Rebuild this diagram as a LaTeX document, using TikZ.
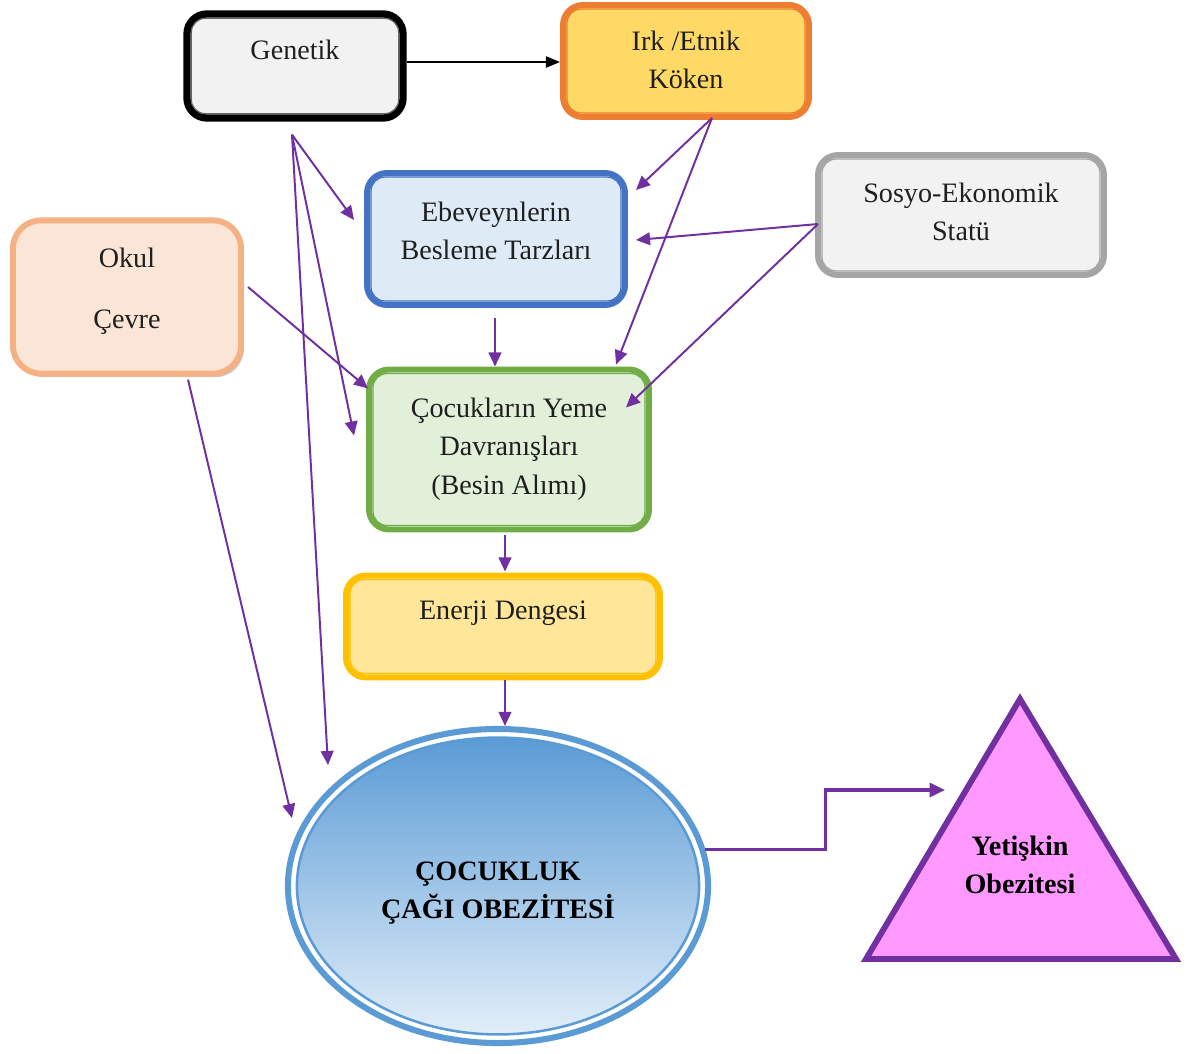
\documentclass[tikz,border=0pt]{standalone}
\usepackage{fontspec}
\setmainfont{Liberation Serif}
\usetikzlibrary{calc,arrows.meta,shapes.geometric,shadows}
\definecolor{cblack}{HTML}{000000}
\definecolor{cgray}{HTML}{A5A5A5}
\definecolor{cgrayfill}{HTML}{F2F2F2}
\definecolor{corange}{HTML}{ED7D31}
\definecolor{corfill}{HTML}{FFD966}
\definecolor{cblue}{HTML}{4472C4}
\definecolor{cbluefill}{HTML}{DEEBF7}
\definecolor{cpeach}{HTML}{F4B183}
\definecolor{cpeachfill}{HTML}{FBE5D6}
\definecolor{cgreen}{HTML}{70AD47}
\definecolor{cgreenfill}{HTML}{E2F0D9}
\definecolor{cgold}{HTML}{FFC000}
\definecolor{cgoldfill}{HTML}{FFE699}
\definecolor{csky}{HTML}{5B9BD5}
\definecolor{cskylight}{HTML}{E2EEF9}
\definecolor{cpurple}{HTML}{7030A0}
\definecolor{cpink}{HTML}{FF99FF}
\begin{document}
\begin{tikzpicture}[x=0.025cm,y=-0.025cm,
  boxshape/.style={rectangle, rounded corners=0.5cm, line width=4.2pt, inner sep=0pt},
  innerline/.style={line width=0.9pt, rounded corners=0.35cm},
  txt/.style={font=\fontsize{20}{27.5}\selectfont, align=center, text=black!88, inner sep=0pt},
  btxt/.style={font=\bfseries\fontsize{20}{27.5}\selectfont, align=center, text=black, inner sep=0pt},
  arr/.style={draw=cpurple, line width=1.4pt, -{Triangle[length=10pt,width=9pt]}},
  blackarr/.style={draw=black, line width=1.2pt, -{Triangle[length=10pt,width=8pt]}}
]
\useasboundingbox (0,0) rectangle (1193,1054);

% Genetik
\node[boxshape, line width=5.2pt, draw=cblack, fill=cgrayfill, minimum width=5.4cm, minimum height=2.6cm] (gen) at (295,66) {};
\draw[innerline, draw=black!60] ($(gen.north west)+(8,8)$) rectangle ($(gen.south east)+(-8,-8)$);
\node[txt] (gent) at (295,50) {Genetik};

% Irk
\node[boxshape, draw=corange, fill=corfill, minimum width=6.15cm, minimum height=2.8cm] (irk) at (686,61) {};
\draw[innerline, draw=corange] ($(irk.north west)+(7,7)$) rectangle ($(irk.south east)+(-7,-7)$);
\node[txt] (irkt) at (686,60) {Irk /Etnik\\Köken};

% Ebeveynlerin
\node[boxshape, draw=cblue, fill=cbluefill, minimum width=6.45cm, minimum height=3.3cm] (ebe) at (496,239) {};
\draw[innerline, draw=cblue] ($(ebe.north west)+(7,7)$) rectangle ($(ebe.south east)+(-7,-7)$);
\node[txt] (ebet) at (496,231) {Ebeveynlerin\\Besleme Tarzları};

% Okul
\node[boxshape, rounded corners=0.7cm, draw=cpeach, fill=cpeachfill, minimum width=5.7cm, minimum height=3.83cm,
  drop shadow={shadow xshift=2pt, shadow yshift=-2.5pt, opacity=0.35, fill=black!60}] (okul) at (127,297) {};
\node[txt] (okult) at (127,291) {Okul\\[16pt]Çevre};

% Sosyo
\node[boxshape, draw=cgray, fill=cgrayfill, minimum width=7.15cm, minimum height=3.0cm,
  drop shadow={shadow xshift=1.5pt, shadow yshift=-1.5pt, opacity=0.2, fill=black!60}] (sos) at (961,215) {};
\draw[innerline, draw=cgray] ($(sos.north west)+(7,7)$) rectangle ($(sos.south east)+(-7,-7)$);
\node[txt] (sost) at (961,212) {Sosyo-Ekonomik\\Statü};

% Çocukların
\node[boxshape, draw=cgreen, fill=cgreenfill, minimum width=7.0cm, minimum height=4.0cm] (coc) at (509,449.5) {};
\draw[innerline, draw=cgreen] ($(coc.north west)+(7,7)$) rectangle ($(coc.south east)+(-7,-7)$);
\node[txt] (coct) at (509,449) {Çocukların Yeme\\Davranışları\\(Besin Alımı)};

% Enerji
\node[boxshape, draw=cgold, fill=cgoldfill, minimum width=7.85cm, minimum height=2.55cm] (enr) at (503,626.5) {};
\draw[innerline, draw=cgold] ($(enr.north west)+(7,7)$) rectangle ($(enr.south east)+(-7,-7)$);
\node[txt] (enrt) at (503,613) {Enerji Dengesi};

% Ellipse
\node[ellipse, draw=csky, line width=4.3pt, fill=white, minimum width=10.5cm, minimum height=7.85cm, inner sep=0pt] (obez) at (498,886) {};
\node[ellipse, draw=csky, line width=1.8pt, top color=csky, bottom color=cskylight, minimum width=10.05cm, minimum height=7.42cm, inner sep=0pt] (obezin) at (498,886) {};
\node[btxt] (obezt) at (498,893) {ÇOCUKLUK\\ÇAĞI OBEZİTESİ};

% Triangle
\coordinate (ta) at (1020,699);
\coordinate (tbl) at (866,959);
\coordinate (tbr) at (1176,959);
\draw[draw=cpurple, fill=cpink, line width=4.2pt, line join=miter] (ta) -- (tbl) -- (tbr) -- cycle;
\node[btxt] (tri) at (1020,865) {Yetişkin\\Obezitesi};

% Connectors
\draw[blackarr] ($(gen.east)+(0,-4)$) -- ($(irk.west)+(0,1)$);

\coordinate (gsrc) at ($(gen.south)+(-3,13)$);
\draw[arr] (gsrc) -- ($(ebe.west)+(-10,-19)$);
\draw[arr] (gsrc) -- ($(coc.west)+(-12,-14)$);
\draw[arr] (gsrc) -- ($(obez.center)+(-170,-121)$);

\coordinate (irkb) at ($(irk.south)+(26,-2)$);
\draw[arr] (irkb) -- ($(ebe.east)+(8,-49)$);
\draw[arr] (irkb) -- ($(coc.north)+(107,-2)$);

\coordinate (sosw) at ($(sos.west)+(3,9)$);
\draw[arr] (sosw) -- ($(ebe.east)+(8,1)$);
\draw[arr] (sosw) -- ($(coc.east)+(-26,-42)$);

\draw[arr] ($(okul.east)+(4,-10)$) -- ($(coc.west)+(2,-61)$);
\draw[arr] ($(okul.south)+(61,3)$) -- ($(obez.center)+(-206,-68)$);

\draw[arr] ($(ebe.south)+(-1,10)$) -- ($(coc.north)+(-14,0)$);
\draw[arr] ($(coc.south)+(-4,3)$) -- ($(enr.north)+(2,-1)$);
\draw[arr] ($(enr.south)+(2,0)$) -- ($(obez.north)+(7,0)$);

\coordinate (tarr) at (945,790);
\draw[arr, line width=2.2pt, -{Triangle[length=11pt,width=10pt]}] (obez.10) -| ($(obez.10)!0.5!(tarr)$) |- (tarr);
\end{tikzpicture}
\end{document}
